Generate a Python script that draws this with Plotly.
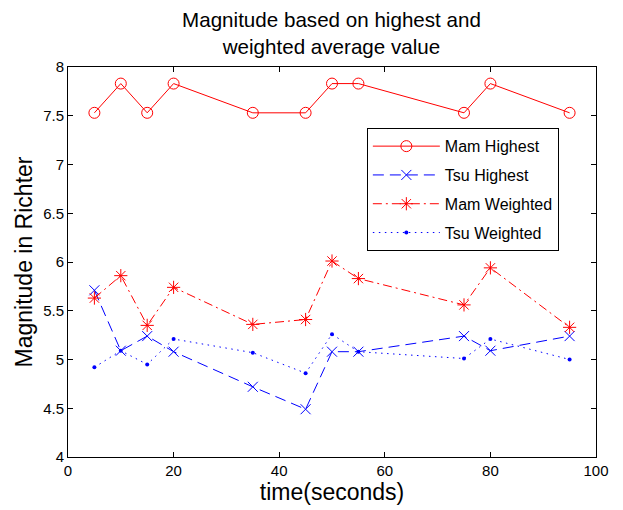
import plotly.graph_objects as go

time_s = [5, 10, 15, 20, 35, 45, 50, 55, 75, 80, 95]
mam_highest = [7.53, 7.83, 7.53, 7.83, 7.53, 7.53, 7.83, 7.83, 7.53, 7.83, 7.53]
tsu_highest = [5.71, 5.09, 5.24, 5.08, 4.72, 4.49, 5.08, 5.08, 5.24, 5.09, 5.24]
mam_weighted = [5.63, 5.86, 5.35, 5.74, 5.36, 5.41, 6.01, 5.83, 5.56, 5.94, 5.33]
tsu_weighted = [4.92, 5.09, 4.95, 5.21, 5.07, 4.86, 5.26, 5.08, 5.01, 5.21, 5.00]

x_ticks = [0, 20, 40, 60, 80, 100]
y_ticks = [4, 4.5, 5, 5.5, 6, 6.5, 7, 7.5, 8]
y_tick_labels = ["4", "4.5", "5", "5.5", "6", "6.5", "7", "7.5", "8"]

FONT = "Liberation Sans, Arial, sans-serif"

fig = go.Figure()
fig.add_trace(go.Scatter(x=time_s, y=mam_highest, name="Mam Highest", mode="lines+markers", legendgroup="a",
                         line=dict(color="#ff0000", width=1),
                         marker=dict(symbol="circle-open", size=11, color="#ff0000", line=dict(width=1))))
fig.add_trace(go.Scatter(x=time_s, y=tsu_highest, name="Tsu Highest", mode="lines+markers", legendgroup="b",
                         line=dict(color="#0000ff", width=1, dash="11px,6px"),
                         marker=dict(symbol="x-thin-open", size=10, color="#0000ff", line=dict(width=1, color="#0000ff"))))
fig.add_trace(go.Scatter(x=time_s, y=mam_weighted, name="Mam Weighted", mode="lines+markers", legendgroup="c",
                         line=dict(color="#ff0000", width=1, dash="9px,4px,2px,4px"),
                         marker=dict(symbol="asterisk-open", size=11, color="#ff0000", line=dict(width=1, color="#ff0000"))))
fig.add_trace(go.Scatter(x=time_s, y=tsu_weighted, name="Tsu Weighted", mode="lines+markers", legendgroup="d",
                         line=dict(color="#0000ff", width=1, dash="1.5px,4.5px"),
                         marker=dict(symbol="circle", size=4, color="#0000ff")))

axis_common = dict(showgrid=False, zeroline=False, showline=True, linecolor="black", linewidth=1,
                   mirror="ticks", ticks="inside", ticklen=5, tickcolor="black", automargin=False,
                   tickfont=dict(family=FONT, size=15, color="black"))

fig.update_layout(
    width=615, height=502,
    paper_bgcolor="white", plot_bgcolor="white",
    margin=dict(l=60, r=27, t=59, b=53),
    title=dict(text="Magnitude based on highest and<br>weighted average value", x=0.526, xanchor="center",
               y=0.962, yanchor="top",
               font=dict(family=FONT, size=20.6, color="black")),
    xaxis=dict(range=[0, 100], tickvals=x_ticks,
               title=dict(text="time(seconds)", font=dict(family=FONT, size=23, color="black"), standoff=1),
               **axis_common),
    yaxis=dict(range=[4, 8], tickvals=y_ticks, ticktext=y_tick_labels,
               title=dict(text="Magnitude in Richter", font=dict(family=FONT, size=23, color="black"), standoff=4),
               **axis_common),
    legend=dict(x=0.566, y=0.843, xanchor="left", yanchor="top", bordercolor="black", borderwidth=1,
                bgcolor="white", font=dict(family=FONT, size=16, color="black"),
                traceorder="grouped", tracegroupgap=5, itemwidth=67),
    showlegend=True,
)

fig.write_html("out.html")
